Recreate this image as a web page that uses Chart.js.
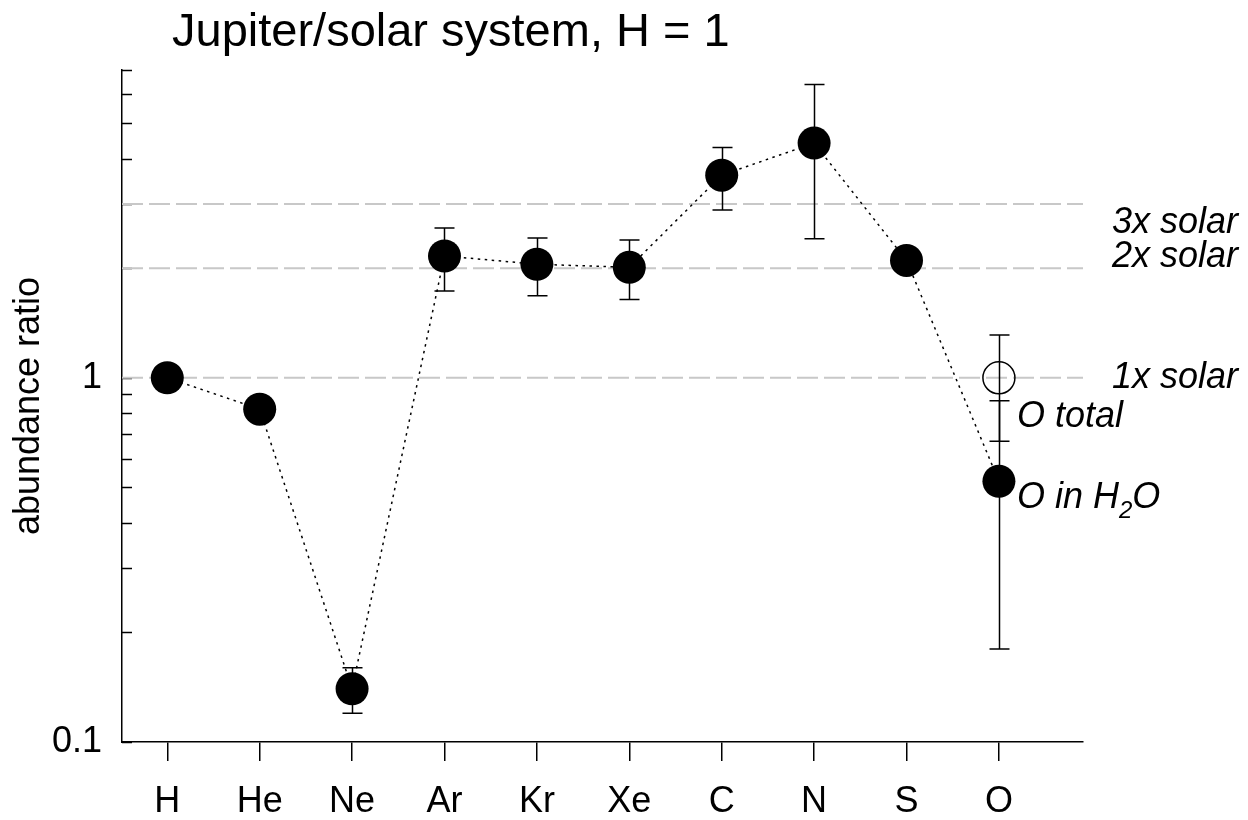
<!DOCTYPE html>
<html>
<head>
<meta charset="utf-8">
<title>Jupiter/solar system abundances</title>
<script src="https://cdn.jsdelivr.net/npm/chart.js@4.4.1/dist/chart.umd.min.js"></script>
<style>
  html, body { margin: 0; padding: 0; background: #fff; }
  canvas { display: block; }
</style>
</head>
<body>
<canvas id="abund" width="1248" height="820"></canvas>
<script>
// Jupiter / solar abundance ratios, normalised to H = 1
const ELEMENTS = ['H', 'He', 'Ne', 'Ar', 'Kr', 'Xe', 'C', 'N', 'S', 'O'];
const RATIO    = [1.0, 0.82, 0.14, 2.16, 2.05, 2.01, 3.60, 4.41, 2.10, 0.52];
const ERR_LOW  = [null, null, 0.12, 1.73, 1.68, 1.64, 2.89, 2.41, null, 0.18];
const ERR_HIGH = [null, null, 0.16, 2.58, 2.42, 2.39, 4.29, 6.39, null, 0.865];

// oxygen total (open marker) at the O column
const O_TOTAL = 1.0, O_TOTAL_LOW = 0.67, O_TOTAL_HIGH = 1.31;

const SOLAR_LEVELS = [1, 2, 3];
const SOLAR_LABELS = ['1x solar', '2x solar', '3x solar'];

const Y_TICKS = [0.1, 0.2, 0.3, 0.4, 0.5, 0.6, 0.7, 0.8, 0.9, 1, 2, 3, 4, 5, 6, 7];
const Y_LABELLED = [0.1, 1];

const X_MIN = -0.49, X_MAX = 9.91;
const FONT = '"Liberation Sans", Arial, Helvetica, sans-serif';

Chart.defaults.font.family = FONT;
Chart.defaults.color = '#000';

// short inward ticks on the log axis
const yTicks = {
  id: 'yTicks',
  beforeDatasetsDraw(c) {
    const { ctx, scales: { y } } = c, left = c.chartArea.left;
    ctx.save();
    ctx.strokeStyle = '#000'; ctx.lineWidth = 1.5;
    Y_TICKS.forEach(v => {
      const py = Math.round(y.getPixelForValue(v)) + 0.5;
      ctx.beginPath(); ctx.moveTo(left, py); ctx.lineTo(left + 10, py); ctx.stroke();
    });
    ctx.restore();
  }
};

// vertical error bars with flat caps
const errorBars = {
  id: 'errorBars',
  afterDatasetsDraw(c) {
    const { ctx, scales: { x, y } } = c;
    const bar = (i, lo, hi) => {
      const px = Math.round(x.getPixelForValue(i)) + 0.5;
      const y0 = y.getPixelForValue(lo), y1 = y.getPixelForValue(hi);
      ctx.beginPath();
      ctx.moveTo(px, y0); ctx.lineTo(px, y1);
      ctx.moveTo(px - 10, y0); ctx.lineTo(px + 10, y0);
      ctx.moveTo(px - 10, y1); ctx.lineTo(px + 10, y1);
      ctx.stroke();
    };
    ctx.save();
    ctx.strokeStyle = '#000'; ctx.lineWidth = 1.5;
    ELEMENTS.forEach((_, i) => {
      if (ERR_LOW[i] != null && ERR_HIGH[i] != null) bar(i, ERR_LOW[i], ERR_HIGH[i]);
    });
    bar(ELEMENTS.indexOf('O'), O_TOTAL_LOW, O_TOTAL_HIGH);
    ctx.restore();
  }
};

// title, solar-level labels and oxygen labels
const labels = {
  id: 'labels',
  afterDraw(c) {
    const { ctx, chartArea: a, scales: { x, y } } = c;
    ctx.save();
    ctx.fillStyle = '#000';
    ctx.textBaseline = 'alphabetic';
    ctx.textAlign = 'left';

    ctx.font = '47px ' + FONT;
    ctx.fillText('Jupiter/solar system, H = 1', 172, 46);

    ctx.font = 'italic 36px ' + FONT;
    const shift = [10, -1, 29];
    SOLAR_LEVELS.forEach((lvl, k) => {
      ctx.fillText(SOLAR_LABELS[k], a.right + 29, y.getPixelForValue(lvl) + shift[k]);
    });

    const oi = ELEMENTS.indexOf('O');
    const ox = x.getPixelForValue(oi) + 18;
    ctx.fillText('O total', ox, y.getPixelForValue(O_TOTAL) + 49);

    const base = y.getPixelForValue(RATIO[oi]) + 27;
    let tx = ox;
    ctx.fillText('O in H', tx, base);
    tx += ctx.measureText('O in H').width;
    ctx.font = 'italic 24px ' + FONT;
    ctx.fillText('2', tx, base + 10);
    tx += ctx.measureText('2').width;
    ctx.font = 'italic 36px ' + FONT;
    ctx.fillText('O', tx, base);
    ctx.restore();
  }
};

const solarSets = SOLAR_LEVELS.map(lvl => ({
  type: 'line',
  data: [{ x: X_MIN, y: lvl }, { x: X_MAX, y: lvl }],
  borderColor: '#c8c8c8', borderWidth: 2, borderDash: [21, 6],
  pointRadius: 0, order: 3
}));

new Chart(document.getElementById('abund'), {
  type: 'line',
  data: {
    datasets: [
      {
        data: RATIO.map((v, i) => ({ x: i, y: v })),
        borderColor: '#000', borderWidth: 1.5, borderDash: [2.5, 4.5],
        pointRadius: 16.5, pointHoverRadius: 16.5,
        pointBackgroundColor: '#000', pointBorderColor: '#000', pointBorderWidth: 0,
        tension: 0, order: 0
      },
      {
        data: [{ x: ELEMENTS.indexOf('O'), y: O_TOTAL }],
        showLine: false,
        pointRadius: 16, pointHoverRadius: 16,
        pointBackgroundColor: 'rgba(0,0,0,0)', pointBorderColor: '#000', pointBorderWidth: 1.5,
        order: 1
      },
      ...solarSets
    ]
  },
  options: {
    responsive: false, animation: false,
    layout: { padding: { top: 70, right: 165, bottom: 0, left: 0 } },
    plugins: { legend: { display: false }, tooltip: { enabled: false } },
    scales: {
      x: {
        type: 'linear', min: X_MIN, max: X_MAX,
        afterBuildTicks: s => { s.ticks = ELEMENTS.map((_, i) => ({ value: i })); },
        afterFit: s => { s.height = 78; },
        ticks: {
          autoSkip: false, maxRotation: 0, padding: 19,
          font: { size: 36 }, color: '#000',
          callback: v => ELEMENTS[v] ?? ''
        },
        grid: { drawOnChartArea: false, drawTicks: true, tickLength: 19, color: '#000', lineWidth: 1.5 },
        border: { display: true, color: '#000', width: 1.5 }
      },
      y: {
        type: 'logarithmic', min: 0.1, max: 7,
        afterBuildTicks: s => { s.ticks = Y_TICKS.map(v => ({ value: v })); },
        afterFit: s => { s.width = 122; },
        ticks: {
          autoSkip: false, padding: 12,
          font: { size: 36 }, color: '#000',
          callback: v => Y_LABELLED.includes(v) ? String(v) : ''
        },
        grid: { display: false },
        border: { display: true, color: '#000', width: 1.5 },
        title: { display: true, text: 'abundance ratio', font: { size: 36 }, color: '#000', padding: { top: 7, bottom: 0 } }
      }
    }
  },
  plugins: [yTicks, errorBars, labels]
});
</script>
</body>
</html>
